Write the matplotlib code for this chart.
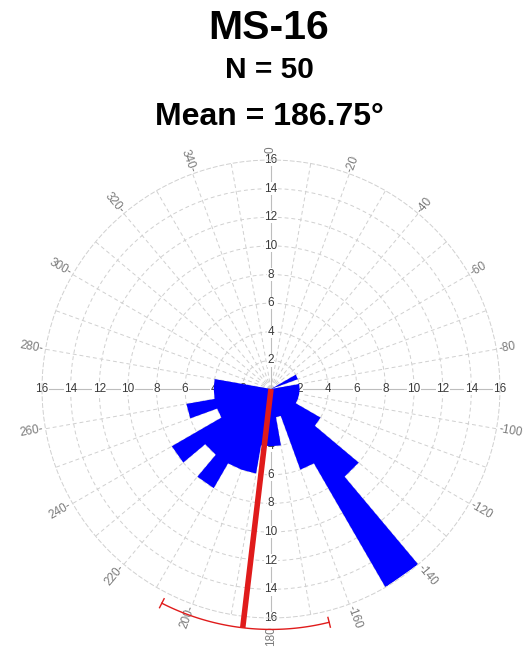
import numpy as np
import matplotlib.pyplot as plt

plt.rcParams['font.family'] = ['Liberation Sans', 'DejaVu Sans']

# rose histogram, 10 degree bins (start of bin, percent of measurements)
bin_start = [60, 70, 80, 90, 100, 110, 120, 130, 140, 150, 160, 170,
             180, 190, 200, 210, 220, 230, 240, 250, 260, 270]
percent = [2, 0, 2, 2, 2, 2, 4, 8, 16, 6, 2, 4,
           4, 6, 6, 8, 6, 8, 4, 6, 4, 4]
bin_width = 10

site = 'MS-16'
n_obs = 50
mean_dir = 186.75
ci_low, ci_high = 166.0, 207.0
mean_len = 16.8

rmax = 16
ring_ticks = list(range(2, rmax + 1, 2))
angle_labels = list(range(0, 360, 20))

fig = plt.figure(figsize=(5.27, 6.53), dpi=100)
ax = fig.add_axes([0.0797, 0.0536, 0.869, 0.7014], projection='polar')
ax.set_theta_zero_location('N')
ax.set_theta_direction(-1)
ax.set_ylim(0, rmax)
ax.set_axisbelow(True)

ax.set_thetagrids(range(0, 360, 10), labels=[])
ax.set_rgrids(ring_ticks[:-1], labels=[])
ax.grid(True, color='#d0d0d0', linestyle=(0, (4, 3)), linewidth=0.7)
ax.spines['polar'].set_color('#d0d0d0')
ax.spines['polar'].set_linestyle((0, (4, 3)))
ax.spines['polar'].set_linewidth(0.7)
ax.tick_params(length=0)

# solid axes through the centre
for a in (0, 90, 180, 270):
    ax.plot([np.radians(a)] * 2, [0, rmax], color='#bdbdbd', lw=0.8, zorder=0.8)

# radial tick labels along the four main axes
for a in (0, 90, 180, 270):
    for r in ring_ticks:
        ax.text(np.radians(a), r, str(r), ha='center', va='center',
                fontsize=8.5, color='#3a3a3a', zorder=1,
                bbox=dict(facecolor='white', edgecolor='none', pad=0.2))

# compass labels round the outside, written along the radius
for a in angle_labels:
    if a < 180:
        txt, rot, ha = '-' + str(a), 90 - a, 'left'
    else:
        txt, rot, ha = str(a) + '-', 270 - a, 'right'
    r_lab = rmax + 0.15
    if a == 0:
        txt, r_lab = '0', rmax + 0.5
    if a == 180:
        txt, r_lab = '180', rmax + 0.55
    ax.text(np.radians(a), r_lab, txt, rotation=rot, rotation_mode='anchor',
            ha=ha, va='center', fontsize=8.5, color='#7a7a7a', clip_on=False)

# petals as one outline: a triangle from the centre for every bin
th_pts, r_pts = [], []
for b, p in zip(bin_start, percent):
    t0, t1 = np.radians(b), np.radians(b + bin_width)
    th_pts += [t0, t0, t1, t1]
    r_pts += [0, p, p, 0]
ax.fill(th_pts, r_pts, color='#0000ff', lw=0, zorder=2)

# mean direction with its confidence arc
red = '#e01b1b'
th = np.radians(mean_dir)
ax.plot([th, th], [0, mean_len], color=red, lw=4, solid_capstyle='butt',
        zorder=3, clip_on=False)
arc = np.radians(np.linspace(ci_low, ci_high, 120))
ax.plot(arc, np.full_like(arc, mean_len), color=red, lw=1.0, zorder=3, clip_on=False)
for c in (ci_low, ci_high):
    ax.plot([np.radians(c)] * 2, [mean_len - 0.35, mean_len + 0.35], color=red,
            lw=1.0, zorder=3, clip_on=False)

cx = 0.5104
fig.text(cx, 0.940, site, ha='center', va='baseline', fontsize=29.5, fontweight='bold')
fig.text(cx, 0.8806, 'N = %d' % n_obs, ha='center', va='baseline', fontsize=21.5,
         fontweight='bold')
fig.text(cx, 0.8086, 'Mean = %.2f°' % mean_dir, ha='center', va='baseline',
         fontsize=23, fontweight='bold')

fig.savefig('out.png', dpi=100)
